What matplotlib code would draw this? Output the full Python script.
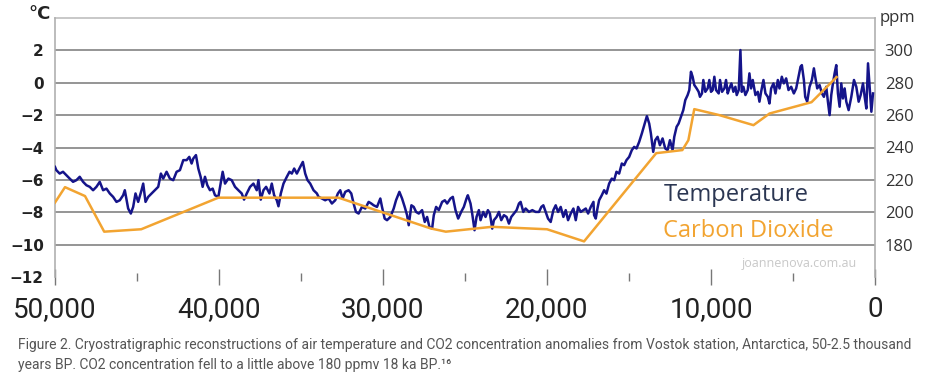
import matplotlib
matplotlib.use("Agg")
import matplotlib.pyplot as plt
from matplotlib.ticker import FuncFormatter, MultipleLocator

# Vostok temperature anomaly (years BP, deg C)
temp_years = [
    50000, 49919, 49715, 49511, 49308, 49104, 48900, 48697, 48493, 48289,
    48086, 47882, 47678, 47474, 47271, 47067, 46863, 46660, 46456, 46252,
    46049, 45845, 45743, 45539, 45376, 45234, 45091, 44928, 44724, 44622,
    44480, 44317, 44113, 43910, 43706, 43543, 43401, 43197, 42993, 42790,
    42586, 42382, 42178,
    41975, 41812, 41670, 41568, 41405, 41262, 41120, 40998, 40855, 40712,
    40550, 40386, 40244, 40040, 39898, 39776, 39633, 39429, 39225, 39022,
    38818, 38614, 38472, 38309, 38105, 37901, 37698, 37596, 37453, 37290,
    37127, 36924, 36781, 36638, 36476, 36374, 36231, 36068, 35864, 35701,
    35559, 35416, 35253, 35049, 34887, 34744, 34601, 34438, 34235, 34031,
    33931, 33727, 33524, 33320, 33116, 32913, 32750, 32607, 32464, 32301,
    32098, 31935, 31792, 31650, 31487, 31283, 31080, 30876, 30713, 30570,
    30366, 30163, 30061, 29898, 29755, 29551, 29348, 29205, 29001, 28838,
    28676, 28533, 28431, 28268, 28126, 27983, 27820, 27616, 27454, 27311,
    27168, 27005, 26903, 26761, 26598, 26394, 26231, 26089, 25885, 25742,
    25580, 25416,
    25234, 25071, 24908, 24827, 24664, 24562, 24419, 24297, 24154, 24052,
    23889, 23747, 23604, 23482, 23340, 23238, 23075, 22932, 22789, 22627,
    22464, 22321, 22179, 22016, 21853, 21710, 21608, 21445, 21303, 21099,
    20895, 20692, 20488, 20345, 20223, 20080, 19938, 19775, 19612, 19469,
    19327, 19164, 19001, 18858, 18715, 18553, 18390, 18247, 18105, 17942,
    17779, 17636, 17493, 17330, 17167,
    17128, 17027, 16925, 16823, 16660, 16517, 16375, 16212, 16049, 15906,
    15764, 15601, 15438, 15295, 15153, 14990, 14827, 14684, 14542, 14379,
    14216, 14073, 13910, 13768, 13666, 13523, 13401, 13258, 13116, 12953,
    12790, 12647, 12504, 12342, 12240, 12097, 11975, 11832, 11690, 11567,
    11425, 11323,
    11222, 11120, 11018, 10876, 10754, 10672, 10550, 10468, 10346, 10204,
    10102, 10000, 9898, 9796, 9694, 9531, 9450, 9328, 9185, 9083,
    8981, 8880, 8757, 8635, 8513, 8431, 8309, 8207, 8126, 8024,
    7902, 7759, 7657, 7556, 7454, 7291, 7148, 7046, 6944, 6802,
    6680, 6537, 6435, 6333, 6191, 6069, 5926,
    5824, 5682, 5560, 5417, 5274, 5112, 4949, 4806, 4663, 4541,
    4460, 4337, 4256, 4134, 3991, 3849, 3726, 3645, 3523, 3380,
    3237, 3115, 2973, 2871, 2769, 2667, 2565, 2463, 2362, 2260,
    2158, 2056, 1954, 1852, 1750, 1608, 1445, 1282, 1140, 997,
    875, 732, 630, 528, 426, 324, 222, 121,
]
temp_values = [
    -5.20, -5.40, -5.61, -5.50, -5.71, -5.92, -6.12, -6.02, -5.81, -6.12,
    -6.33, -6.43, -6.64, -6.43, -6.12, -6.64, -6.54, -6.84, -7.05, -7.36,
    -7.26, -6.95, -6.64, -7.77, -8.08, -7.67, -6.84, -7.36, -6.64, -6.23,
    -7.36, -7.05, -6.84, -6.64, -6.43, -5.61, -5.92, -5.50, -5.92, -6.02,
    -5.50, -5.40, -4.78,
    -4.78, -4.58, -4.99, -4.68, -4.47, -5.30, -5.81, -6.43, -5.81, -6.33,
    -6.64, -6.54, -6.95, -7.05, -6.23, -5.50, -6.23, -5.92, -6.02, -6.43,
    -6.64, -6.84, -7.22, -6.84, -6.43, -6.23, -6.64, -6.02, -7.22, -6.64,
    -6.43, -6.84, -6.23, -6.95, -7.26, -7.63, -6.84, -6.23, -5.81, -5.50,
    -5.61, -5.30, -5.61, -5.20, -4.89, -5.61, -6.02, -6.23, -6.64, -6.84,
    -7.05, -7.15, -7.26, -7.15, -7.46, -7.26, -6.84, -6.64, -7.15, -6.74,
    -6.64, -6.84, -7.46, -7.98, -8.08, -7.67, -7.77, -7.36, -7.46, -7.57,
    -7.67, -7.15, -7.67, -8.39, -8.49, -8.29, -7.77, -7.26, -6.74, -7.15,
    -7.67, -8.18, -8.80, -7.57, -7.67, -7.98, -8.08, -7.87, -8.60, -8.29,
    -8.91, -9.01, -8.18, -7.67, -7.87, -7.36, -7.26, -7.46, -7.15, -7.05,
    -7.87, -8.39,
    -7.98, -7.67, -7.15, -6.95, -7.46, -8.08, -9.11, -8.29, -7.87, -8.49,
    -7.98, -8.29, -7.87, -8.08, -9.01, -8.49, -8.29, -7.98, -8.49, -8.18,
    -8.29, -8.70, -8.29, -8.08, -7.87, -7.46, -7.36, -7.98, -7.77, -7.98,
    -7.87, -7.98, -7.98, -7.67, -7.57, -7.98, -8.39, -8.60, -7.87, -7.57,
    -7.98, -7.67, -8.29, -7.87, -8.49, -8.08, -7.77, -8.49, -7.67, -7.98,
    -7.87, -7.77, -8.08, -7.67, -7.36,
    -8.18, -8.39, -7.77, -7.26, -6.95, -6.64, -6.85, -6.23, -5.92, -6.02,
    -5.50, -5.61, -4.99, -5.09, -4.78, -4.58, -4.16, -3.96, -4.06, -3.65,
    -3.13, -2.62, -2.06, -2.52, -3.13, -4.27, -3.55, -3.34, -3.86, -3.44,
    -4.06, -4.16, -3.55, -4.16, -3.34, -2.72, -2.52, -2.10, -1.69, -1.07,
    -0.76, -0.45,
    0.68, 0.37, -0.14, -0.35, -0.56, -0.87, -0.66, 0.17, -0.56, -0.35,
    0.17, -0.56, -0.45, 0.37, -0.45, -0.66, 0.17, -0.56, -0.35, 0.17,
    -0.66, -0.35, -0.04, -0.56, -0.25, -0.76, -0.45, 2.02, -0.56, -0.25,
    -0.76, -0.45, 0.58, -0.35, 0.17, -0.76, -0.56, -1.17, -0.56, 0.17,
    -0.66, -0.87, -1.28, -0.35, -0.04, -0.66, 0.17,
    -0.35, 0.37, -0.04, 0.27, -0.45, -0.25, -0.66, -0.35, 0.37, 0.99,
    1.09, 0.17, -0.87, -1.17, -0.25, 0.17, 0.89, 0.37, -0.35, -0.14,
    -0.66, -0.87, -0.25, -1.17, -2.00, -0.76, -0.04, 0.58, 1.09, -0.66,
    -1.48, -0.04, -0.97, -0.35, -1.17, -1.69, -0.87, 0.17, -0.25, -1.17,
    -0.76, -0.04, -0.87, -1.59, 1.20, -0.25, -1.79, -0.66,
]

# CO2 concentration (years BP, ppm)
co2_years = [50000, 49390, 48170, 47000, 44740, 40040, 32710, 27090, 26170,
             23360, 20000, 17740, 13340, 11750, 11380, 11020, 9490, 7410,
             6430, 3870, 2340]
co2_values = [206, 215.5, 210, 188, 189.5, 209, 209, 190, 188,
              191, 189.5, 182, 236.5, 238.4, 244.5, 263.7, 260, 253.8,
              261, 268, 283.5]

navy = "#15148a"
orange = "#f2a431"

fig = plt.figure(figsize=(9.27, 3.81), dpi=100)
ax = fig.add_axes([55 / 927, 1 - 277 / 381, 820 / 927, 259 / 381])

for y in range(-10, 4, 2):
    ax.axhline(y, color="#8c8c8c", lw=1.3, zorder=0)
ax.axhline(4, color="#c4c4c4", lw=1.3, zorder=0, clip_on=False)

ax.plot(temp_years, temp_values, color=navy, lw=1.8, zorder=3)

ax.set_xlim(50000, 0)
ax.set_ylim(-12, 4)
ax.set_yticks(range(-12, 3, 2))
ax.yaxis.set_tick_params(length=0, pad=8)
for lab in ax.get_yticklabels():
    lab.set_fontweight("bold")
    lab.set_fontsize(11)
    lab.set_color("#222222")

ax.xaxis.set_major_locator(MultipleLocator(10000))
ax.xaxis.set_minor_locator(MultipleLocator(5000))
ax.xaxis.set_major_formatter(FuncFormatter(lambda v, p: f"{int(v):,}"))
ax.tick_params(axis="x", which="major", direction="inout", length=12,
               width=1.0, color="#777777", pad=8, labelsize=20)
ax.tick_params(axis="x", which="minor", direction="inout", length=6,
               width=1.0, color="#777777")
for lab in ax.get_xticklabels():
    lab.set_fontfamily("Roboto")
    lab.set_color("#222222")

for side in ["top", "bottom"]:
    ax.spines[side].set_visible(False)
for side in ["left", "right"]:
    ax.spines[side].set_color("#b0b0b0")
    ax.spines[side].set_linewidth(1.2)

ax2 = ax.twinx()
ax2.plot(co2_years, co2_values, color=orange, lw=1.8, zorder=4)
ax2.set_ylim(160, 320)
ax2.set_yticks(range(180, 301, 20))
ax2.tick_params(axis="y", length=0, pad=7, labelsize=12, colors="#333333")
for lab in ax2.get_yticklabels():
    lab.set_fontfamily("Open Sans")
for side in ["top", "bottom", "left", "right"]:
    ax2.spines[side].set_visible(False)

fig.text(28 / 927, 1 - 14 / 381, "°C", fontsize=13, fontweight="bold",
         color="#222222", va="center", ha="left")
fig.text(880 / 927, 1 - 18 / 381, "ppm", fontsize=12, color="#333333",
         va="center", ha="left", family="Open Sans")

ax.text(0.742, 0.316, "Temperature", transform=ax.transAxes, fontsize=17,
        color="#2b3652", family="Open Sans", va="center", ha="left")
ax.text(0.742, 0.177, "Carbon Dioxide", transform=ax.transAxes, fontsize=17,
        color=orange, family="Open Sans", va="center", ha="left")
ax.text(0.978, 0.053, "joannenova.com.au", transform=ax.transAxes, fontsize=9,
        color="#c8c8c8", family="Open Sans", va="center", ha="right")

caption1 = ("Figure 2. Cryostratigraphic reconstructions of air temperature and CO2 "
            "concentration anomalies from Vostok station, Antarctica, 50-2.5 thousand")
caption2 = "years BP. CO2 concentration fell to a little above 180 ppmv 18 ka BP.¹⁶"
fig.text(18 / 927, 1 - 345 / 381, caption1, fontsize=10, color="#555555",
         family=["Roboto", "DejaVu Sans"], va="center", ha="left")
fig.text(18 / 927, 1 - 365 / 381, caption2, fontsize=10, color="#555555",
         family=["Roboto", "DejaVu Sans"], va="center", ha="left")

fig.savefig("out.png", dpi=100)
